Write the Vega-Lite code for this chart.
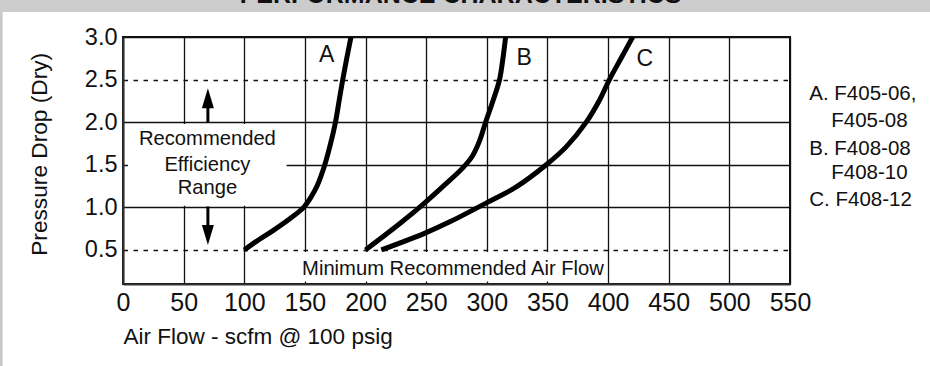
{
  "$schema": "https://vega.github.io/schema/vega-lite/v6.json",
  "width": 667,
  "height": 247,
  "autosize": {"type": "none"},
  "padding": {"left": 123, "top": 37, "right": 140, "bottom": 82},
  "background": "white",
  "config": {
    "view": {"stroke": "#111111", "strokeWidth": 2},
    "font": "Liberation Sans",
    "text": {"font": "Liberation Sans", "color": "#111111"}
  },
  "data": {"values": [{"one": 1}]},
  "datasets": {
    "curves": [
      {"series": "A", "flow": 100, "dp": 0.5},
      {"series": "A", "flow": 112, "dp": 0.62},
      {"series": "A", "flow": 124, "dp": 0.73},
      {"series": "A", "flow": 137, "dp": 0.86},
      {"series": "A", "flow": 149, "dp": 1.0},
      {"series": "A", "flow": 155, "dp": 1.12},
      {"series": "A", "flow": 160, "dp": 1.25},
      {"series": "A", "flow": 166.4, "dp": 1.5},
      {"series": "A", "flow": 171.2, "dp": 1.75},
      {"series": "A", "flow": 175.2, "dp": 2.0},
      {"series": "A", "flow": 178.2, "dp": 2.25},
      {"series": "A", "flow": 181.2, "dp": 2.5},
      {"series": "A", "flow": 184.5, "dp": 2.75},
      {"series": "A", "flow": 188, "dp": 3.0},
      {"series": "B", "flow": 200, "dp": 0.5},
      {"series": "B", "flow": 228.3, "dp": 0.81},
      {"series": "B", "flow": 248.6, "dp": 1.05},
      {"series": "B", "flow": 265, "dp": 1.26},
      {"series": "B", "flow": 280, "dp": 1.46},
      {"series": "B", "flow": 288, "dp": 1.6},
      {"series": "B", "flow": 294, "dp": 1.78},
      {"series": "B", "flow": 299, "dp": 2.0},
      {"series": "B", "flow": 305.3, "dp": 2.26},
      {"series": "B", "flow": 310.5, "dp": 2.5},
      {"series": "B", "flow": 313.3, "dp": 2.75},
      {"series": "B", "flow": 315.5, "dp": 3.0},
      {"series": "C", "flow": 213, "dp": 0.5},
      {"series": "C", "flow": 248.6, "dp": 0.695},
      {"series": "C", "flow": 269.5, "dp": 0.83},
      {"series": "C", "flow": 299, "dp": 1.047},
      {"series": "C", "flow": 324.3, "dp": 1.24},
      {"series": "C", "flow": 349, "dp": 1.5},
      {"series": "C", "flow": 365.4, "dp": 1.71},
      {"series": "C", "flow": 382, "dp": 2.0},
      {"series": "C", "flow": 393, "dp": 2.26},
      {"series": "C", "flow": 401.1, "dp": 2.5},
      {"series": "C", "flow": 410.7, "dp": 2.75},
      {"series": "C", "flow": 420.3, "dp": 3.0}
    ],
    "letters": [
      {"label": "A", "flow": 167.9, "dp": 2.707},
      {"label": "B", "flow": 330.8, "dp": 2.666},
      {"label": "C", "flow": 430.2, "dp": 2.655}
    ],
    "legend": [
      {"label": "A. F405-06,", "flow": 565.9, "dp": 2.256},
      {"label": "F405-08", "flow": 584, "dp": 1.944},
      {"label": "B. F408-08", "flow": 565.9, "dp": 1.612},
      {"label": "F408-10", "flow": 584, "dp": 1.331},
      {"label": "C. F408-12", "flow": 565.9, "dp": 1.019}
    ],
    "notes": [
      {"label": "Recommended", "flow": 69.6, "dp": 1.73},
      {"label": "Efficiency", "flow": 69.6, "dp": 1.425},
      {"label": "Range", "flow": 69.6, "dp": 1.152},
      {"label": "Minimum Recommended Air Flow", "flow": 272.1, "dp": 0.207}
    ]
  },
  "layer": [
    {
      "data": {"name": "curves"},
      "mark": {"type": "line", "color": "#000000", "strokeWidth": 5, "interpolate": "catmull-rom", "strokeCap": "butt"},
      "encoding": {
        "x": {
          "field": "flow", "type": "quantitative",
          "scale": {"domain": [0, 550], "nice": false, "zero": false},
          "axis": {
            "values": [0, 50, 100, 150, 200, 250, 300, 350, 400, 450, 500, 550],
            "grid": true, "gridColor": "#111111", "gridWidth": 1.3,
            "domain": true, "domainColor": "#333333", "domainWidth": 2,
            "ticks": false, "labelPadding": 6, "labelFlush": false, "labelOverlap": false,
            "labelFont": "Liberation Sans", "labelFontSize": 25, "labelColor": "#111111",
            "title": "Air Flow - scfm @ 100 psig", "titleFont": "Liberation Sans", "titleFontSize": 22.5,
            "titleFontWeight": "normal", "titleColor": "#111111",
            "titleAnchor": "start", "titleAlign": "left", "titleX": 0, "titleY": 59, "titleBaseline": "alphabetic"
          }
        },
        "y": {
          "field": "dp", "type": "quantitative",
          "scale": {"domain": [0.1, 3.0], "nice": false, "zero": false},
          "axis": {
            "values": [0.5, 1.0, 1.5, 2.0, 2.5, 3.0], "format": ".1f",
            "grid": true, "gridColor": "#111111", "gridWidth": 1.3,
            "gridDash": {"condition": {"test": "datum.value == 0.5 || datum.value == 2.5", "value": [4.5, 5.5]}, "value": []},
            "domain": true, "domainColor": "#333333", "domainWidth": 2,
            "ticks": false, "labelPadding": 6, "labelFlush": false, "labelOverlap": false,
            "labelFont": "Liberation Sans", "labelFontSize": 23.5, "labelColor": "#111111",
            "title": "Pressure Drop (Dry)", "titleFont": "Liberation Sans", "titleFontSize": 22.7,
            "titleFontWeight": "normal", "titleColor": "#111111",
            "titleAngle": -90, "titleAlign": "center", "titleBaseline": "alphabetic", "titleX": -76.3, "titleY": 116.8
          }
        },
        "detail": {"field": "series", "type": "nominal"}
      }
    },
    {
      "mark": {"type": "rect", "color": "#cccccc"},
      "encoding": {
        "x": {"datum": -102, "type": "quantitative"},
        "x2": {"datum": 667},
        "y": {"datum": 3.293, "type": "quantitative"},
        "y2": {"datum": 3.6}
      }
    },
    {
      "mark": {"type": "rect", "color": "#c8c8c8"},
      "encoding": {
        "x": {"datum": -102, "type": "quantitative"},
        "x2": {"datum": -99.3},
        "y": {"datum": 3.293, "type": "quantitative"},
        "y2": {"datum": -1.2}
      }
    },
    {
      "mark": {"type": "text", "font": "Liberation Sans", "fontWeight": "bold", "fontSize": 25, "align": "center", "baseline": "alphabetic", "color": "#111111"},
      "encoding": {
        "x": {"datum": 278.3, "type": "quantitative"},
        "y": {"datum": 3.395, "type": "quantitative"},
        "text": {"value": "PERFORMANCE CHARACTERISTICS"}
      }
    },
    {
      "mark": {"type": "rect", "color": "white"},
      "encoding": {
        "x": {"datum": 4.1, "type": "quantitative"},
        "x2": {"datum": 134.9},
        "y": {"datum": 1.02, "type": "quantitative"},
        "y2": {"datum": 1.98}
      }
    },
    {
      "mark": {"type": "rect", "color": "white"},
      "encoding": {
        "x": {"datum": 144, "type": "quantitative"},
        "x2": {"datum": 397},
        "y": {"datum": 0.13, "type": "quantitative"},
        "y2": {"datum": 0.475}
      }
    },
    {
      "mark": {"type": "rule", "color": "#000000", "strokeWidth": 3},
      "encoding": {
        "x": {"datum": 70, "type": "quantitative"},
        "y": {"datum": 1.99, "type": "quantitative"},
        "y2": {"datum": 2.2}
      }
    },
    {
      "mark": {"type": "rule", "color": "#000000", "strokeWidth": 3},
      "encoding": {
        "x": {"datum": 70, "type": "quantitative"},
        "y": {"datum": 1.01, "type": "quantitative"},
        "y2": {"datum": 0.75}
      }
    },
    {
      "mark": {"type": "point", "shape": "M0,-1L0.6,1L-0.6,1Z", "size": 400, "filled": true, "color": "#000000", "opacity": 1},
      "encoding": {
        "x": {"datum": 70, "type": "quantitative"},
        "y": {"datum": 2.28, "type": "quantitative"}
      }
    },
    {
      "mark": {"type": "point", "shape": "M0,1L0.6,-1L-0.6,-1Z", "size": 400, "filled": true, "color": "#000000", "opacity": 1},
      "encoding": {
        "x": {"datum": 70, "type": "quantitative"},
        "y": {"datum": 0.676, "type": "quantitative"}
      }
    },
    {
      "data": {"name": "letters"},
      "mark": {"type": "text", "fontSize": 23, "align": "center", "baseline": "alphabetic"},
      "encoding": {
        "x": {"field": "flow", "type": "quantitative"},
        "y": {"field": "dp", "type": "quantitative"},
        "text": {"field": "label"}
      }
    },
    {
      "data": {"name": "notes"},
      "mark": {"type": "text", "fontSize": 20.2, "align": "center", "baseline": "alphabetic"},
      "encoding": {
        "x": {"field": "flow", "type": "quantitative"},
        "y": {"field": "dp", "type": "quantitative"},
        "text": {"field": "label"}
      }
    },
    {
      "data": {"name": "legend"},
      "mark": {"type": "text", "fontSize": 20.5, "align": "left", "baseline": "alphabetic"},
      "encoding": {
        "x": {"field": "flow", "type": "quantitative"},
        "y": {"field": "dp", "type": "quantitative"},
        "text": {"field": "label"}
      }
    }
  ]
}
